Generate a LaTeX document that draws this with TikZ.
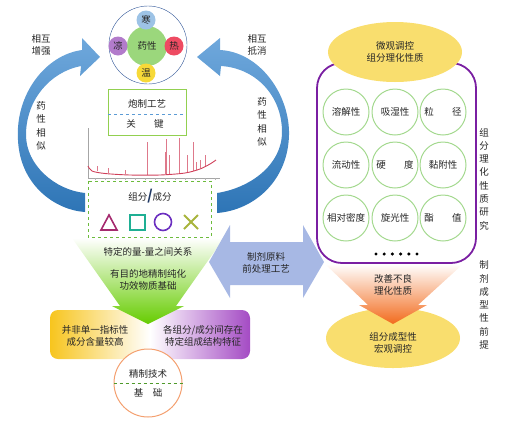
\documentclass[tikz,border=0pt]{standalone}
\usepackage{fontspec}
\setmainfont{Noto Sans CJK SC}
\usepackage{tikz}
\usetikzlibrary{positioning}
\usetikzlibrary{shapes.geometric}
\usepackage{color}

\definecolor{arrowblueA}{HTML}{6FA8DC}
\definecolor{arrowblueB}{HTML}{2E75B6}
\definecolor{ringblue}{HTML}{2F5597}
\definecolor{coldblue}{HTML}{9DC3E6}
\definecolor{coolpurple}{HTML}{B27BCB}
\definecolor{hotred}{HTML}{EE4B62}
\definecolor{warmyellow}{HTML}{F7D938}
\definecolor{coregreen}{HTML}{9BD77C}
\definecolor{craftgreen}{HTML}{92D050}
\definecolor{dashblue}{HTML}{5B9BD5}
\definecolor{boxgreen}{HTML}{6CBB3C}
\definecolor{trired}{HTML}{A52A6E}
\definecolor{sqteal}{HTML}{1FAF94}
\definecolor{circpurple}{HTML}{6B2FC0}
\definecolor{crossolive}{HTML}{A8B43C}
\definecolor{slashblue}{HTML}{1F3864}
\definecolor{funnelgreen}{HTML}{66CC00}
\definecolor{boxyellow}{HTML}{F7C51E}
\definecolor{boxpurple}{HTML}{A44BC4}
\definecolor{ringorange}{HTML}{F4A070}
\definecolor{dashgreen}{HTML}{4E9A2A}
\definecolor{pretreat}{HTML}{A7B8E4}
\definecolor{ellyellow}{HTML}{F9DE6E}
\definecolor{framepurple}{HTML}{7A1FA2}
\definecolor{propgreen}{HTML}{A4D98F}
\definecolor{funnelorange}{HTML}{F26B1D}
\definecolor{peakred}{HTML}{D0405A}

\begin{document}
\begin{tikzpicture}[x=1pt, y=-1pt,
every node/.style={font=\fontsize{9.5}{12.5}\selectfont, text=black!85},
tempnode/.style={circle, minimum size=19pt, inner sep=0pt},
propnode/.style={circle, draw=propgreen, line width=1pt, fill=white, minimum size=46pt, inner sep=0pt},
vtext/.style={align=center, font=\fontsize{9.5}{13.3}\selectfont},
ellnode/.style={ellipse, fill=ellyellow, minimum width=134pt, minimum height=60pt, align=center},
curvedarrow/.style={top color=arrowblueA, bottom color=arrowblueB, draw=none},
]
\useasboundingbox (0,0) rectangle (529,421);

%Curved arrows
\path[curvedarrow] (82,50) .. controls (45,55) and (15,95) .. (18,140)
  .. controls (20,185) and (55,210) .. (85,212) -- (85,193)
  .. controls (55,190) and (26,165) .. (26,135)
  .. controls (26,100) and (50,72) .. (81,66) -- (80,76) -- (100,57) -- (82,38) -- cycle;
\path[curvedarrow] (220,50) .. controls (260,52) and (290,95) .. (289,135)
  .. controls (288,180) and (255,210) .. (217,213) -- (217,193)
  .. controls (250,188) and (282,165) .. (282,132)
  .. controls (282,95) and (255,68) .. (221,66) -- (220,76) -- (197,57) -- (220,38) -- cycle;

%Nature circle
\node[circle, draw=ringblue, thin, minimum size=78pt, inner sep=0pt] (ring) at (148,45) {};
\node[tempnode, fill=coregreen, minimum size=40pt] (core) at (147,46) {药性};
\node[tempnode, fill=coldblue]   (cold) at (146,20) {寒};
\node[tempnode, fill=coolpurple] (cool) at (118,46) {凉};
\node[tempnode, fill=hotred]     (hot)  at (174,46) {热};
\node[tempnode, fill=warmyellow] (warm) at (146,73) {温};

\node[align=center] (enhance) at (41,45) {相互\\增强};
\node[align=center] (offset)  at (257,45) {相互\\抵消};
\node[vtext] (simleft)  at (41,126)  {药\\性\\相\\似};
\node[vtext] (simright) at (262,122) {药\\性\\相\\似};

%Processing box
\draw[craftgreen, line width=1pt] (108,89) rectangle (186,135);
\draw[dashblue, dashed, line width=0.8pt] (108,114) -- (186,114);
\node (craft) at (147,104) {炮制工艺};
\node (key)   at (145,124) {关\hspace{1.9em}键};

%Chromatogram
\draw[gray!70, very thin] (88,128) -- (88,178) -- (220,178);
\foreach \tx in {95,105,...,215} \draw[gray!60, very thin] (\tx,178) -- (\tx,179.5);
\foreach \px/\pb/\pt in {97/171/166, 108/173/168, 125/174/170, 147/175/142, 165/174/152, 166/174/139,
  169/174/155, 179/173/138, 187/172/155, 193/171/142, 196/170/162, 200/168/160, 205/166/155}
  \draw[peakred!70, very thin] (\px,\pb) -- (\px,\pt);
\draw[peakred, line width=0.9pt] plot[smooth] coordinates {(88,166) (92,171) (105,173.5) (130,175)
  (160,175) (185,173) (200,169) (210,164) (216,160)};

%Component box
\draw[boxgreen, dashed, line width=1pt] (88,181) rectangle (211,237);
\node (comp) at (150,196) {组分{\color{slashblue}\fontsize{14}{14}\selectfont\bfseries /}成分};
\draw[trired, line width=1.6pt] (101,230) -- (117,230) -- (109,215) -- cycle;
\draw[sqteal, line width=1.6pt] (130,215) rectangle (145,230);
\draw[circpurple, line width=1.6pt] (163,222) circle [radius=8.5pt];
\draw[crossolive, line width=2pt] (184,215) -- (198,229) (198,215) -- (184,229);

%Purification base
\shade[left color=boxyellow, right color=boxpurple, middle color=white, rounded corners=8pt]
  (50,310) rectangle (250,359);
\shade[top color=white, bottom color=funnelgreen] (72,238) -- (224,238) -- (176,306) -- (184,306)
  -- (148,324) -- (112,306) -- (120,306) -- cycle;
\node (relation) at (148,252) {特定的量-量之间关系};
\node[align=center] (purify) at (148,280) {有目的地精制纯化\\功效物质基础};
\node[align=center] (single) at (95,336) {并非单一指标性\\成分含量较高};
\node[align=center] (struct) at (203,336) {各组分/成分间存在\\特定组成结构特征};
\node[circle, draw=ringorange, line width=1pt, fill=white, minimum size=68pt, inner sep=0pt] (tech) at (148,383) {};
\draw[dashgreen, dashed, line width=1pt] (tech.west) -- (tech.east);
\node (techtop) at (148,374) {精制技术};
\node (techbot) at (148,393) {基\hspace{1em}础};

%Pretreatment double arrow
\fill[pretreat] (209,262) -- (230,225) -- (230,242) -- (303,242) -- (303,225) -- (324,262)
  -- (303,298) -- (303,285) -- (230,285) -- (230,298) -- cycle;
\node[align=center] (pretreat) at (266,263) {制剂原料\\前处理工艺};

%Property frame
\draw[framepurple, line width=1.8pt, rounded corners=25pt] (317,63) rectangle (476,263);
\node[ellnode] (micro) at (395,52) {微观调控\\组分理化性质};
\node[propnode] (p11) at (346,112) {溶解性};
\node[propnode] (p12) at (395,112) {吸湿性};
\node[propnode] (p13) at (443,112) {粒\hspace{1.9em}径};
\node[propnode] (p21) at (346,165) {流动性};
\node[propnode] (p22) at (395,165) {硬\hspace{1.9em}度};
\node[propnode] (p23) at (443,165) {黏附性};
\node[propnode] (p31) at (346,218) {相对密度};
\node[propnode] (p32) at (395,218) {旋光性};
\node[propnode] (p33) at (443,218) {酯\hspace{1.9em}值};
\foreach \i in {0,...,5} \fill (376+\i*8.2,254) circle [radius=1.7pt];
\node[vtext] (study) at (484,179) {组\\分\\理\\化\\性\\质\\研\\究};
\node[vtext] (premise) at (484,305) {制\\剂\\成\\型\\性\\前\\提};

%Forming
\node[ellnode] (macro) at (393,338) {};
\shade[top color=white, bottom color=funnelorange] (325,264) -- (463,264) -- (418,305) -- (427,305)
  -- (393,324) -- (359,305) -- (368,305) -- cycle;
\node[align=center] (improve) at (393,285) {改善不良\\理化性质};
\node[align=center] (formtext) at (393,343) {组分成型性\\宏观调控};
\end{tikzpicture}
\end{document}
